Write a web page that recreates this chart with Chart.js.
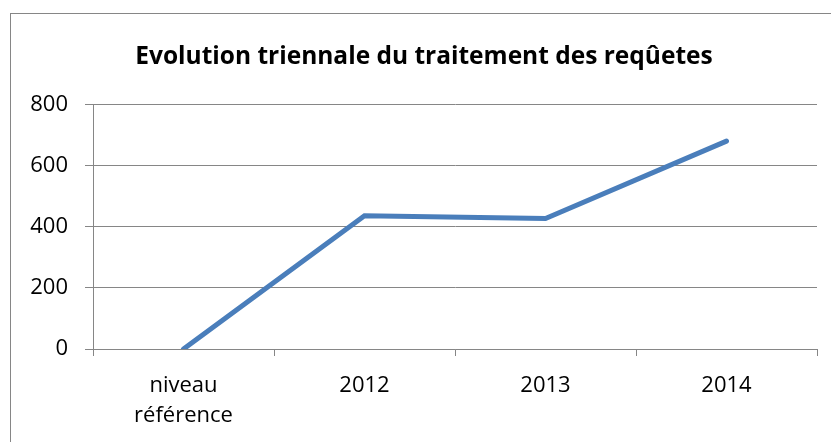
<!DOCTYPE html>
<html>
<head>
<meta charset="utf-8">
<script src="https://cdn.jsdelivr.net/npm/chart.js@4"></script>
<style>
  html, body { margin: 0; padding: 0; background: #fff; }
  #wrap { position: relative; width: 831px; height: 442px; overflow: hidden; }
  #frame { position: absolute; left: 10px; top: 13px; width: 830px; height: 440px; border-left: 1px solid #868686; border-top: 1px solid #868686; }
  canvas { position: absolute; left: 0; top: 0; }
</style>
</head>
<body>
<div id="wrap">
  <div id="frame"></div>
  <canvas id="chart" width="848" height="442"></canvas>
</div>
<script>
  const categories = [['niveau', 'référence'], '2012', '2013', '2014'];
  const requetes = [0, 436, 427, 680];
  const yTicks = [0, 200, 400, 600, 800];

  const gridGray = '#868686';
  const font = '"Open Sans", Lato, sans-serif';

  new Chart(document.getElementById('chart'), {
    type: 'line',
    data: {
      labels: categories,
      datasets: [
        {
          label: 'Requêtes',
          data: requetes,
          borderColor: '#4a7ebb',
          borderWidth: 5,
          pointRadius: 0,
          tension: 0,
          borderCapStyle: 'round',
        },
      ],
    },
    options: {
      responsive: false,
      animation: false,
      layout: { padding: { top: 13, right: 0, bottom: 0, left: 0 } },
      plugins: {
        legend: { display: false },
        tooltip: { enabled: false },
        title: {
          display: true,
          text: 'Evolution triennale du traitement des reqûetes',
          color: '#000',
          font: { family: font, size: 24.5, weight: 'bold', lineHeight: 1.2 },
          padding: { top: 29, bottom: 33 },
        },
      },
      scales: {
        x: {
          offset: true,
          grid: { drawOnChartArea: false, drawTicks: true, tickLength: 7, offset: true, color: gridGray },
          border: { display: true, color: gridGray },
          ticks: { color: '#000', font: { family: font, size: 22, lineHeight: 1.36 }, padding: 15, maxRotation: 0, autoSkip: false },
          afterFit: (scale) => { scale.height = 93; },
        },
        y: {
          min: 0,
          max: 800,
          afterBuildTicks: (scale) => { scale.ticks = yTicks.map((v) => ({ value: v })); },
          grid: { color: gridGray, tickLength: 8 },
          border: { display: true, color: gridGray },
          ticks: { color: '#000', font: { family: font, size: 22 }, padding: 17 },
          afterFit: (scale) => { scale.width = 93; },
        },
        // empty right-hand gutter, as in the original frame
        gutter: {
          position: 'right',
          min: 0,
          max: 800,
          grid: { display: false },
          border: { display: false },
          ticks: { display: false },
          afterFit: (scale) => { scale.width = 31; },
        },
      },
    },
  });
</script>
</body>
</html>
